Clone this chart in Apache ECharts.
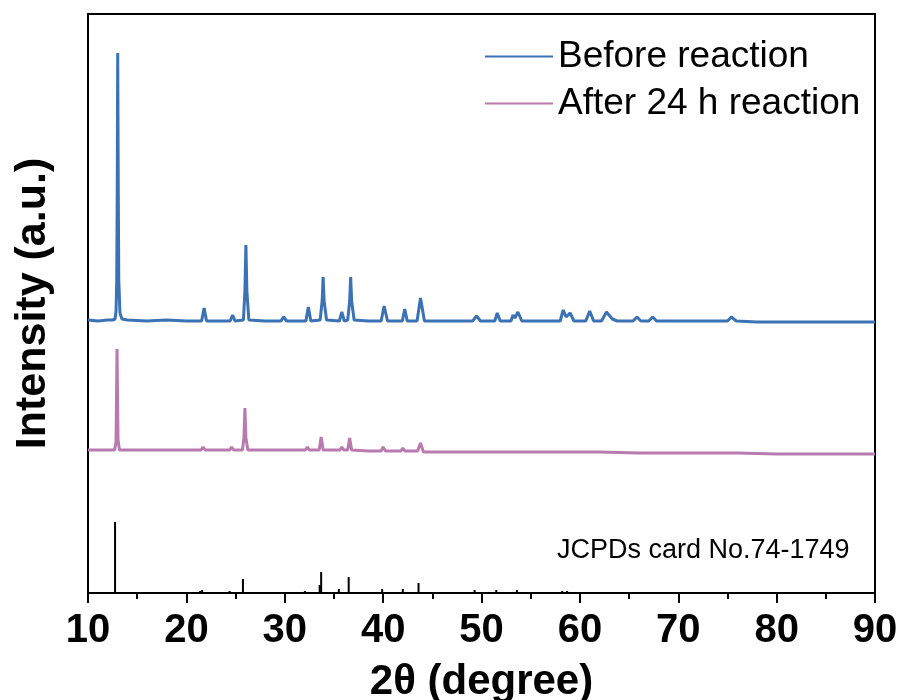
<!DOCTYPE html>
<html>
<head>
<meta charset="utf-8">
<script src="https://cdn.jsdelivr.net/npm/echarts@6/dist/echarts.min.js"></script>
<style>
  html, body { margin: 0; padding: 0; background: #fff; }
  #chart { width: 898px; height: 700px; }
</style>
</head>
<body>
<div id="chart"></div>
<script>
// 2θ / net intensity pairs (arbitrary units)
var beforeData = [
  [10, 1], [11, 0], [12, 1], [12.5, 1], [12.75, 2], [12.85, 10], [12.92, 40], [12.97, 126],
  [13.02, 268], [13.08, 126], [13.13, 40], [13.25, 8], [13.45, 2], [14, 1], [16, 0], [18, 1],
  [20, 0], [21.55, 0], [21.8, 13], [22.05, 0], [24.45, 0], [24.7, 6], [24.95, 0],
  [25.8, 1], [25.95, 30], [26.05, 76], [26.15, 30], [26.35, 1], [28, 0],
  [29.6, 0], [29.9, 4], [30.2, 0], [32.15, 0], [32.4, 14], [32.65, 0],
  [33.6, 1], [33.8, 20], [33.9, 44], [34.0, 20], [34.25, 1], [35.55, 0], [35.8, 9], [36.05, 0],
  [36.4, 1], [36.6, 20], [36.7, 44], [36.8, 20], [37.05, 1], [38.5, 0],
  [39.8, 0], [40.1, 15], [40.45, 0], [41.95, 0], [42.2, 12], [42.45, 0],
  [43.45, 0], [43.8, 23], [44.2, 0], [46, 0], [49.1, 0], [49.5, 5], [49.9, 0],
  [51.35, 0], [51.6, 8], [51.9, 0], [53.0, 0], [53.2, 6], [53.4, 3], [53.7, 9], [54.1, 0],
  [56, 0], [58.0, 0], [58.3, 11], [58.6, 4], [59.0, 8], [59.4, 0], [60.6, 0], [61.0, 10], [61.4, 0],
  [62.2, 0], [62.7, 9], [63.3, 2], [63.8, 0], [65.4, 0], [65.8, 4], [66.2, 0],
  [67.0, 0], [67.4, 4], [67.8, 0], [70, 0], [72, 0], [75.0, 0], [75.4, 4], [75.9, 0],
  [78, -1], [82, -1], [86, -1], [90, -1]
];
var afterData = [
  [10, 0], [12, 0], [12.7, 0], [12.85, 8], [12.95, 101], [13.05, 10], [13.2, 0], [16, 0], [19, 0],
  [21.5, 0], [21.7, 3], [21.9, 0], [24.4, 0], [24.6, 3], [24.8, 0],
  [25.7, 0], [25.85, 12], [25.95, 42], [26.05, 12], [26.25, 0], [29, 0],
  [32.1, 0], [32.3, 3], [32.5, 0], [33.5, 0], [33.7, 13], [33.9, 0], [35.6, 0], [35.8, 3], [36.0, 0],
  [36.4, 0], [36.6, 12], [36.8, 0], [38.5, -1], [39.8, -1], [40.0, 3], [40.25, -1],
  [41.8, -1], [42.0, 2], [42.2, -1], [43.5, -1], [43.8, 7], [44.1, -2], [48, -2], [50, -2],
  [53.5, -2], [53.7, 0], [53.9, -2], [58.1, -2], [58.3, -1], [58.5, -2], [62, -2], [66, -3],
  [70, -3], [76, -3], [80, -4], [85, -4], [90, -4]
];
// JCPDS 74-1749 reference lines
var refPos = [12.75, 21.4, 21.6, 24.4, 25.75, 32.05, 33.55, 33.7, 35.5, 36.5, 39.9, 42.0, 43.2, 43.6,
  49.3, 51.5, 53.6, 58.2, 58.7, 60.7, 61.7, 63.0, 71.7, 75.5];
var refInt = [71, 2, 3, 2, 14, 2, 8, 21, 4, 16, 4, 4, 1, 10, 3, 3, 3, 2, 2, 1, 1, 1, 1, 1];

var xTicks = [10, 20, 30, 40, 50, 60, 70, 80, 90];

var offBefore = 272;
var offAfter = 143;

var myChart = echarts.init(document.getElementById('chart'));

var fontMain = '"Liberation Sans", Arial, sans-serif';

myChart.setOption({
  animation: false,
  grid: {
    left: 88, right: 23, top: 14, bottom: 107,
    outerBoundsMode: 'none',
    containLabel: false,
    show: true, borderColor: '#000', borderWidth: 2
  },
  legend: {
    data: ['Before reaction', 'After 24 h reaction'],
    orient: 'vertical',
    left: 479,
    top: 33,
    itemWidth: 68,
    itemHeight: 14,
    itemGap: 10,
    itemStyle: { opacity: 0 },
    textStyle: { fontFamily: fontMain, fontSize: 37, color: '#000', padding: [0, 0, 0, 0] }
  },
  graphic: [{
    type: 'text',
    left: 557,
    top: 537,
    style: { text: 'JCPDs card No.74-1749', font: '27px ' + fontMain, fill: '#000' }
  }],
  xAxis: {
    type: 'value',
    min: xTicks[0],
    max: xTicks[xTicks.length - 1],
    interval: 10,
    name: '2θ (degree)',
    nameLocation: 'middle',
    nameGap: 68,
    nameTextStyle: { fontFamily: fontMain, fontSize: 42, fontWeight: 'bold', color: '#000' },
    axisLine: { show: true, lineStyle: { color: '#000', width: 2 } },
    axisTick: { show: true, inside: false, length: 10, lineStyle: { color: '#000', width: 2 } },
    minorTick: { show: true, splitNumber: 2, length: 6, lineStyle: { color: '#000', width: 2 } },
    axisLabel: { fontFamily: fontMain, fontSize: 40, fontWeight: 'bold', color: '#000', margin: 18 },
    splitLine: { show: false }
  },
  yAxis: {
    type: 'value',
    min: 0,
    max: 579,
    name: 'Intensity (a.u.)',
    nameLocation: 'middle',
    nameGap: 33,
    nameTextStyle: { fontFamily: fontMain, fontSize: 43, fontWeight: 'bold', color: '#000' },
    axisLine: { show: true, lineStyle: { color: '#000', width: 2 } },
    axisTick: { show: false },
    axisLabel: { show: false },
    splitLine: { show: false }
  },
  series: [
    {
      name: 'Before reaction',
      type: 'line',
      symbol: 'none',
      showSymbol: false,
      data: beforeData.map(function (p) { return [p[0], p[1] + offBefore]; }),
      lineStyle: { color: '#3a72b5', width: 3 },
      itemStyle: { color: '#3a72b5' }
    },
    {
      name: 'After 24 h reaction',
      type: 'line',
      symbol: 'none',
      showSymbol: false,
      data: afterData.map(function (p) { return [p[0], p[1] + offAfter]; }),
      lineStyle: { color: '#b97ab0', width: 3 },
      itemStyle: { color: '#b97ab0' }
    },
    {
      name: 'JCPDS',
      type: 'bar',
      barWidth: 2,
      data: refPos.map(function (x, i) { return [x, refInt[i]]; }),
      itemStyle: { color: '#000' }
    }
  ]
});
</script>
</body>
</html>
